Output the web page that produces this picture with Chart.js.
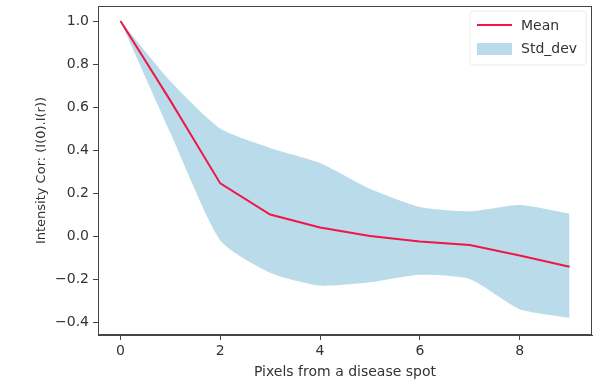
<!DOCTYPE html>
<html>
<head>
<meta charset="utf-8">
<script src="https://cdn.jsdelivr.net/npm/chart.js@4"></script>
<style>
  html, body { margin: 0; padding: 0; background: #fff; }
  #wrap { width: 605px; height: 385px; }
</style>
</head>
<body>
<div id="wrap"><canvas id="myChart" width="605" height="385"></canvas></div>
<script>
// values
const pixels = [0, 1, 2, 3, 4, 5, 6, 7, 8, 9];
const meanValues = [1.0, 0.63, 0.245, 0.10, 0.04, 0.0, -0.025, -0.042, -0.09, -0.143];
const stdUpper = [1.0, 0.72, 0.5, 0.41, 0.34, 0.22, 0.135, 0.115, 0.145, 0.105];
const stdLower = [1.0, 0.48, -0.02, -0.17, -0.23, -0.215, -0.18, -0.2, -0.34, -0.38];
const xTicks = [0, 2, 4, 6, 8];
const yTicks = [-0.4, -0.2, 0.0, 0.2, 0.4, 0.6, 0.8, 1.0];

const lineColor = '#ee1747';
const bandColor = 'rgba(173, 213, 230, 0.85)';
const axisColor = '#444';
const font = { family: 'DejaVu Sans', size: 14 };

const toPoints = (ys) => pixels.map((x, i) => ({ x, y: ys[i] }));

// frame round the plot + legend in the top right corner, like matplotlib
const frameAndLegend = {
  id: 'frameAndLegend',
  afterDraw(chart) {
    const { ctx, chartArea } = chart;
    ctx.save();
    ctx.strokeStyle = axisColor;
    ctx.lineWidth = 1;
    ctx.strokeRect(chartArea.left + 0.5, chartArea.top + 0.5,
      chartArea.right - chartArea.left - 1, chartArea.bottom - chartArea.top - 1);

    const x0 = chartArea.right - 122;
    const y0 = chartArea.top + 5;
    ctx.fillStyle = 'rgba(255,255,255,0.8)';
    ctx.strokeStyle = '#ececec';
    ctx.beginPath();
    ctx.roundRect(x0, y0, 116, 54, 3);
    ctx.fill();
    ctx.stroke();

    ctx.strokeStyle = lineColor;
    ctx.lineWidth = 2;
    ctx.beginPath();
    ctx.moveTo(x0 + 7, y0 + 14);
    ctx.lineTo(x0 + 42, y0 + 14);
    ctx.stroke();
    ctx.fillStyle = bandColor;
    ctx.fillRect(x0 + 7, y0 + 32, 35, 12);

    ctx.fillStyle = '#333';
    ctx.font = '14px "DejaVu Sans"';
    ctx.textBaseline = 'middle';
    ctx.fillText('Mean', x0 + 51, y0 + 15);
    ctx.fillText('Std_dev', x0 + 51, y0 + 38);
    ctx.restore();
  }
};

const ctx = document.querySelector('#myChart').getContext('2d');
const chart = new Chart(ctx, {
  type: 'line',
  data: {
    datasets: [
      {
        label: 'Mean',
        data: toPoints(meanValues),
        borderColor: lineColor,
        borderWidth: 2,
        pointRadius: 0,
        fill: false,
        tension: 0,
        order: 0
      },
      {
        label: 'Std_upper',
        data: toPoints(stdUpper),
        borderWidth: 0,
        borderColor: 'rgba(0,0,0,0)',
        backgroundColor: bandColor,
        pointRadius: 0,
        fill: '+1',
        tension: 0.2,
        order: 1
      },
      {
        label: 'Std_lower',
        data: toPoints(stdLower),
        borderWidth: 0,
        borderColor: 'rgba(0,0,0,0)',
        pointRadius: 0,
        fill: false,
        tension: 0.2,
        order: 1
      }
    ]
  },
  options: {
    responsive: false,
    animation: false,
    layout: { padding: { left: 30, right: 13, top: 6, bottom: 0 } },
    plugins: {
      legend: { display: false },
      tooltip: { enabled: false }
    },
    scales: {
      x: {
        type: 'linear',
        min: -0.45,
        max: 9.45,
        afterBuildTicks: (s) => { s.ticks = xTicks.map(v => ({ value: v })); },
        afterFit: (s) => { s.height = 50; s.paddingLeft = 0; s.paddingRight = 0; },
        ticks: { color: '#333', font, padding: 3, maxRotation: 0,
          callback: (v) => String(v) },
        grid: { display: true, drawOnChartArea: false, drawTicks: true, tickLength: 5, color: axisColor },
        border: { display: true, color: axisColor },
        title: { display: true, text: 'Pixels from a disease spot', color: '#333', font, padding: { top: 1 } }
      },
      y: {
        min: -0.46,
        max: 1.07,
        afterBuildTicks: (s) => { s.ticks = yTicks.map(v => ({ value: v })); },
        afterFit: (s) => { s.width = 68; s.paddingTop = 0; s.paddingBottom = 0; },
        ticks: { color: '#333', font, padding: 4,
          callback: (v) => (v < 0 ? '\u2212' + Math.abs(v).toFixed(1) : v.toFixed(1)) },
        grid: { display: true, drawOnChartArea: false, drawTicks: true, tickLength: 5, color: axisColor },
        border: { display: true, color: axisColor },
        title: { display: true, text: 'Intensity Cor: (I(0).I(r))', color: '#333',
          font: { family: 'DejaVu Sans', size: 13 }, padding: { bottom: 2 } }
      }
    }
  },
  plugins: [frameAndLegend]
});
</script>
</body>
</html>
